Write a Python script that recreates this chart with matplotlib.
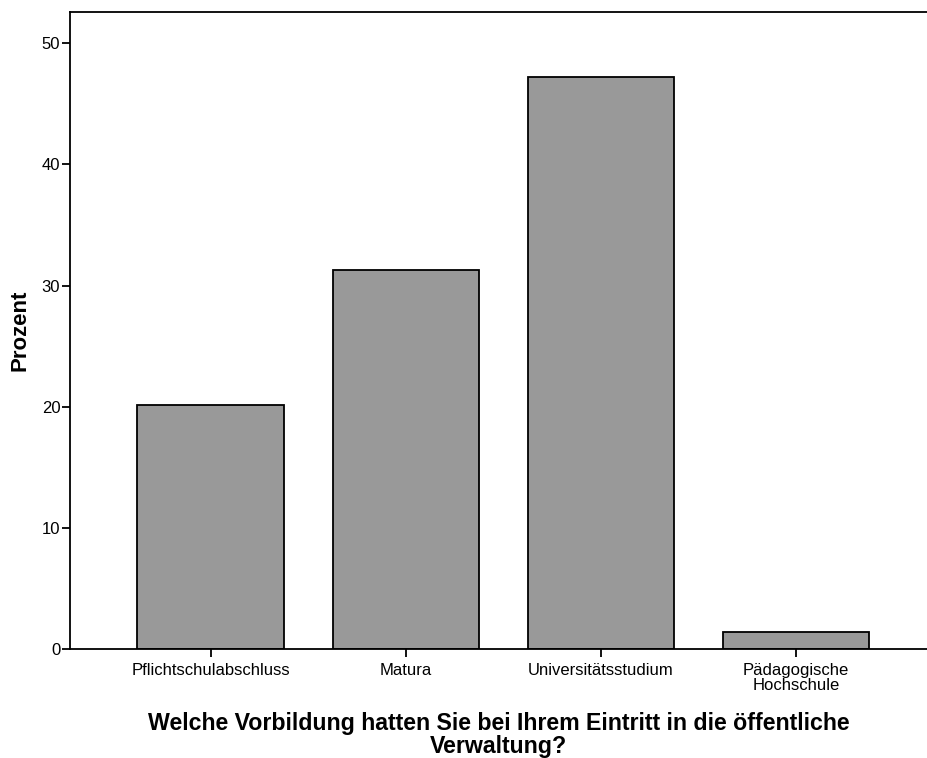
import matplotlib
matplotlib.use('Agg')
import matplotlib.pyplot as plt

# Daten (Prozent)
kategorien = ['Pflichtschulabschluss', 'Matura', 'Universitätsstudium',
              'Pädagogische\nHochschule']
prozent = [20.1, 31.3, 47.2, 1.4]
y_ticks = [0, 10, 20, 30, 40, 50]

plt.rcParams['font.family'] = ['Liberation Sans', 'DejaVu Sans']

fig = plt.figure(figsize=(9.27, 7.58), dpi=100)
ax = fig.add_axes([0.0755, 0.1438, 0.9245, 0.8408])

x = range(len(kategorien))
ax.bar(x, prozent, width=0.75, color='#999999', edgecolor='black',
       linewidth=1.3)

ax.set_xlim(-0.72, 3.67)
ax.set_ylim(0, 52.6)
ax.set_yticks(y_ticks)
ax.set_xticks(list(x))
ax.set_xticklabels(kategorien, fontsize=12, linespacing=1.0)
ax.tick_params(axis='y', labelsize=12, length=6, width=1.3, pad=1)
ax.tick_params(axis='x', length=6, width=1.3, pad=4)

ax.spines['right'].set_visible(False)
for s in ['left', 'bottom', 'top']:
    ax.spines[s].set_linewidth(1.3)

ax.set_ylabel('Prozent', fontsize=16, fontweight='bold', labelpad=8)
ax.set_xlabel('Welche Vorbildung hatten Sie bei Ihrem Eintritt in die öffentliche\nVerwaltung?',
              fontsize=16.7, fontweight='bold', linespacing=1.0, labelpad=14)

fig.savefig('out.png', dpi=100)
